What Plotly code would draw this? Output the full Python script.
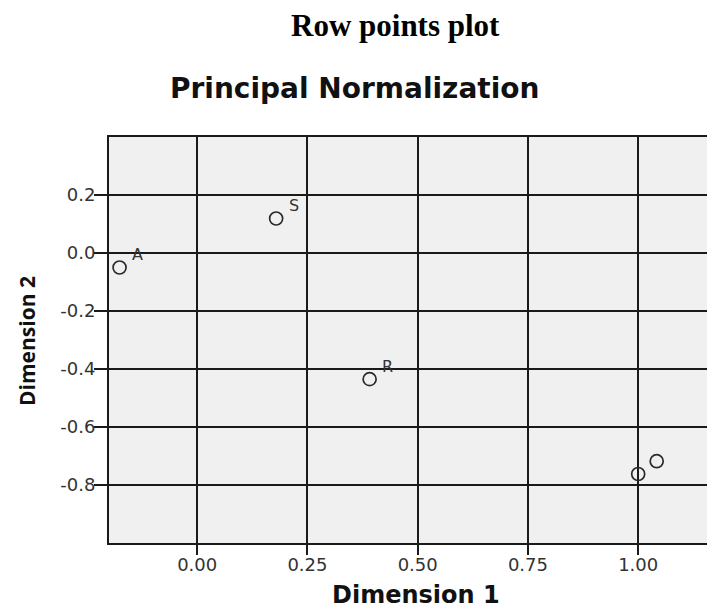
import plotly.graph_objects as go

# Data
dim1 = [-0.176, 0.179, 0.391, 1.000, 1.042]
dim2 = [-0.050, 0.119, -0.435, -0.762, -0.718]
labels = ["A", "S", "R", "", ""]

x_tickvals = [0.0, 0.25, 0.5, 0.75, 1.0]
x_ticktext = ["0.00", "0.25", "0.50", "0.75", "1.00"]
y_tickvals = [0.2, 0.0, -0.2, -0.4, -0.6, -0.8]
y_ticktext = ["0.2", "0.0", "-0.2", "-0.4", "-0.6", "-0.8"]

# page has an 8px body margin, so the figure is drawn 8px smaller and positions shifted
OFF = 8
W, H = 715 - OFF, 610 - OFF
L, T = 109 - OFF, 137 - OFF
R = 0
B = 610 - 543
PW, PH = W - L - R, H - T - B


def py(pix):
    return (H - B - (pix - OFF)) / PH


def px(pix):
    return ((pix - OFF) - L) / PW


fig = go.Figure()
fig.add_trace(go.Scatter(
    x=dim1, y=dim2, mode="markers",
    marker=dict(symbol="circle-open", size=13, color="#2a2a2a", line=dict(width=1.7)),
    cliponaxis=False, showlegend=False, hoverinfo="x+y",
))

axis_common = dict(
    showgrid=True, gridcolor="#1a1a1a", gridwidth=1.8,
    zeroline=False, ticks="outside", tickcolor="#1a1a1a", tickwidth=1.8,
    showline=True, linecolor="#1a1a1a", linewidth=2,
    tickfont=dict(family="DejaVu Sans", size=18, color="#333333"),
)

fig.update_xaxes(range=[-0.2, 1.1742], tickvals=x_tickvals, ticktext=x_ticktext,
                 ticklen=10, mirror=True, ticklabelstandoff=-6, **axis_common)
fig.update_yaxes(range=[-1.0, 0.4], tickvals=y_tickvals, ticktext=y_ticktext,
                 ticklen=13, ticklabelstandoff=-5, **axis_common)

annotations = [
    dict(text=lab, x=xv, y=yv, xref="x", yref="y", showarrow=False,
         xanchor="center", yanchor="middle", xshift=18, yshift=13,
         font=dict(family="DejaVu Sans", size=16, color="#333333"))
    for xv, yv, lab in zip(dim1, dim2, labels) if lab
]

annotations += [
    dict(text="<b>Row points plot</b>", x=px(395), y=py(26), xref="paper", yref="paper",
         showarrow=False, xanchor="center", yanchor="middle",
         font=dict(family="Liberation Serif", size=31, color="black")),
    dict(text="<b>Principal Normalization</b>", x=px(354), y=py(88), xref="paper", yref="paper",
         showarrow=False, xanchor="center", yanchor="middle",
         font=dict(family="DejaVu Sans", size=28, color="#111111")),
    dict(text="<b>Dimension 1</b>", x=px(416), y=py(595), xref="paper", yref="paper",
         showarrow=False, xanchor="center", yanchor="middle",
         font=dict(family="DejaVu Sans", size=24, color="#111111")),
    dict(text="<b>Dimension 2</b>", x=px(27), y=py(341), xref="paper", yref="paper",
         showarrow=False, xanchor="center", yanchor="middle", textangle=-90,
         font=dict(family="Open Sans", size=21, color="#111111")),
]

fig.update_layout(
    width=W, height=H, autosize=False,
    margin=dict(l=L, r=R, t=T, b=B, pad=0),
    paper_bgcolor="white", plot_bgcolor="#f0f0f0",
    annotations=annotations,
)

fig.write_html("out.html")
